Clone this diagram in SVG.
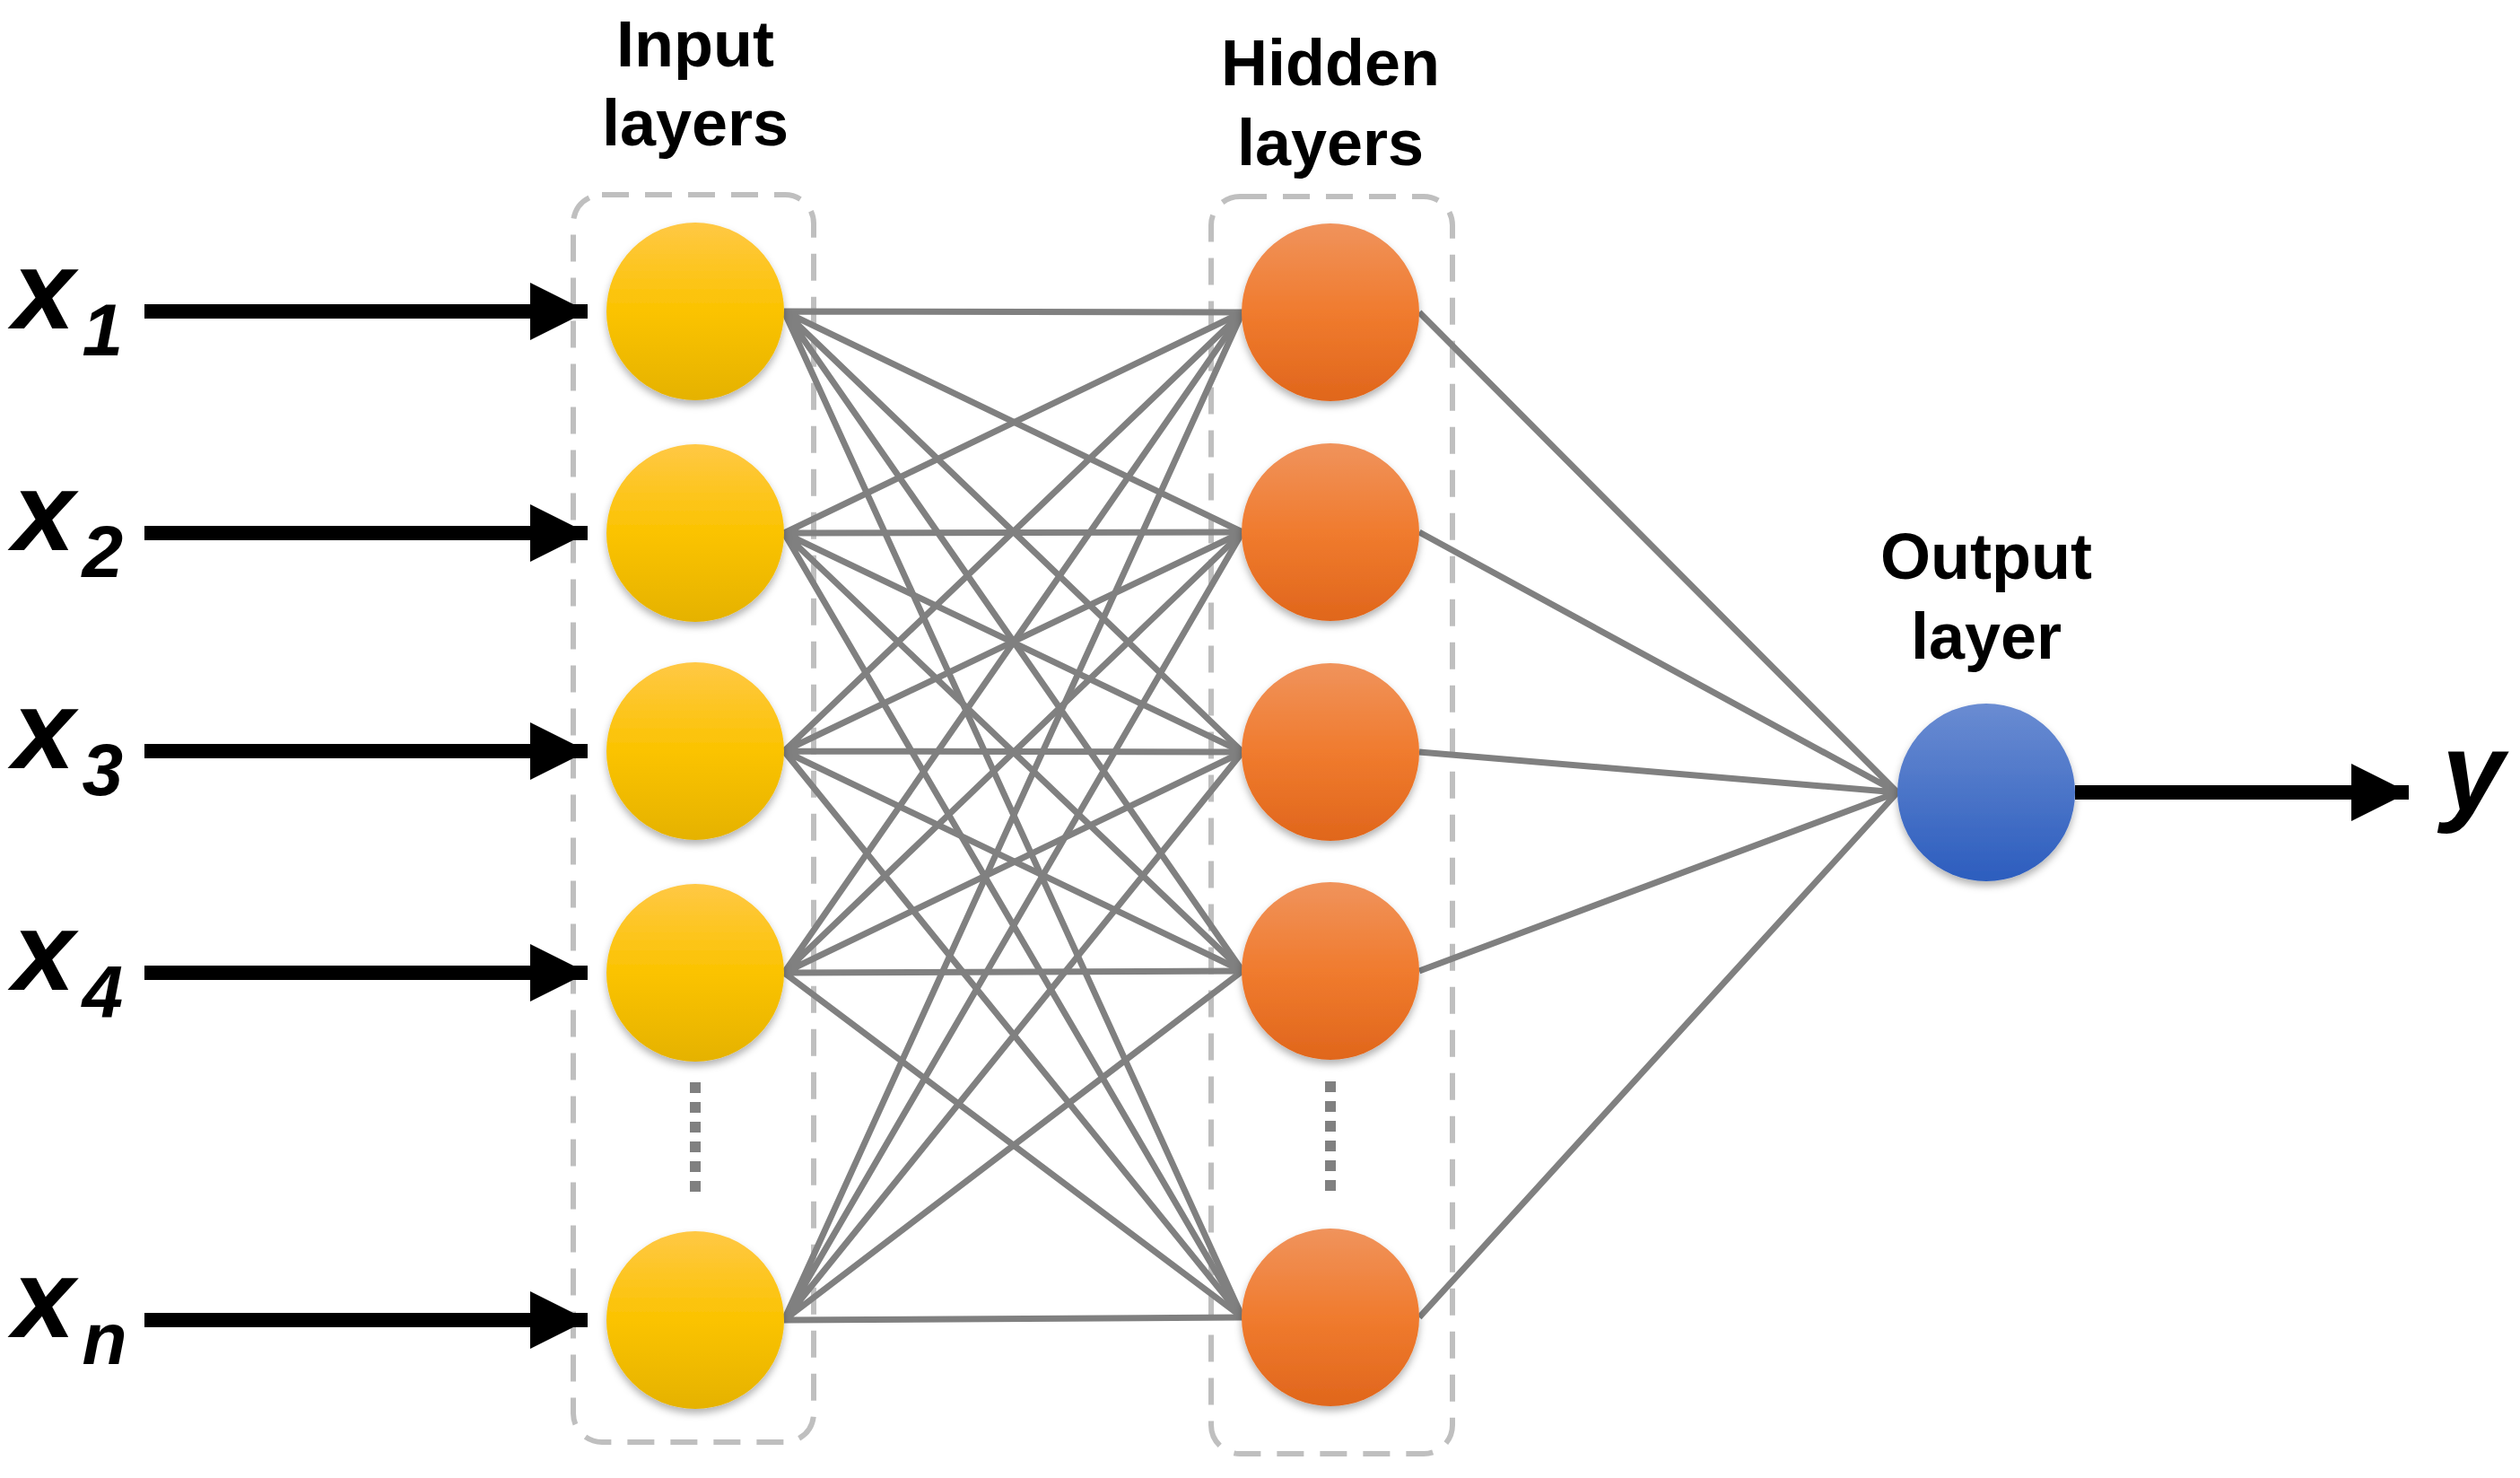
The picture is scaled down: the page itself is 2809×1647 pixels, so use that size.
<svg xmlns="http://www.w3.org/2000/svg" width="2809" height="1647" viewBox="0 0 2809 1647">
<style>
.lbl{font-family:"Liberation Sans",Arial,sans-serif;font-weight:bold;font-size:72px;fill:#000;text-anchor:middle}
.xl{font-family:"Liberation Sans",Arial,sans-serif;font-weight:bold;font-style:italic;fill:#000}
.box{fill:none;stroke:#bfbfbf;stroke-width:6;stroke-dasharray:30,18}
.c{stroke:#808080;stroke-width:7;fill:none}
.arr{stroke:#000;stroke-width:16;fill:none}
.dots{stroke:#808080;stroke-width:12;stroke-dasharray:12,10}
</style>
<defs>
<linearGradient id="gy" x1="0" y1="0" x2="0" y2="1"><stop offset="0" stop-color="#FFC845"/><stop offset="0.5" stop-color="#FBC300"/><stop offset="1" stop-color="#E5B200"/></linearGradient>
<linearGradient id="go" x1="0" y1="0" x2="0" y2="1"><stop offset="0" stop-color="#F0935C"/><stop offset="0.5" stop-color="#F07B2E"/><stop offset="1" stop-color="#E0661C"/></linearGradient>
<linearGradient id="gb" x1="0" y1="0" x2="0" y2="1"><stop offset="0" stop-color="#6A8CD2"/><stop offset="1" stop-color="#2C5DBE"/></linearGradient>
<filter id="sh" x="-20%" y="-20%" width="140%" height="150%"><feDropShadow dx="0" dy="5" stdDeviation="4" flood-color="#000" flood-opacity="0.3"/></filter>
<marker id="ah" viewBox="0 0 10 10" refX="10" refY="5" markerWidth="5" markerHeight="4" markerUnits="strokeWidth" orient="auto"><path d="M0,0 L10,5 L0,10 z" fill="#000"/></marker>
</defs>
<rect width="2809" height="1647" fill="#fff"/>
<text class="lbl" x="775" y="74">Input</text>
<text class="lbl" x="775" y="162">layers</text>
<text class="lbl" x="1483" y="95">Hidden</text>
<text class="lbl" x="1483" y="184">layers</text>
<text class="lbl" x="2214" y="645">Output</text>
<text class="lbl" x="2214" y="734">layer</text>
<rect class="box" x="639" y="217" width="268" height="1390" rx="32"/>
<rect class="box" x="1350" y="219" width="269" height="1401" rx="32"/>
<g id="connectors">
<g class="c">
<path d="M874,347L1385,348M874,347L1385,593M874,347L1385,838M874,347L1385,1082M874,347L1385,1468"/>
<path d="M874,594L1385,348M874,594L1385,593M874,594L1385,838M874,594L1385,1082M874,594L1385,1468"/>
<path d="M874,837L1385,348M874,837L1385,593M874,837L1385,838M874,837L1385,1082M874,837L1385,1468"/>
<path d="M874,1084L1385,348M874,1084L1385,593M874,1084L1385,838M874,1084L1385,1082M874,1084L1385,1468"/>
<path d="M874,1471L1385,348M874,1471L1385,593M874,1471L1385,838M874,1471L1385,1082M874,1471L1385,1468"/>
<path d="M1582,348L2115,883M1582,593L2115,883M1582,838L2115,883M1582,1082L2115,883M1582,1468L2115,883"/>
</g>
<g class="arr">
<path d="M161,347H655" marker-end="url(#ah)"/>
<path d="M161,594H655" marker-end="url(#ah)"/>
<path d="M161,837H655" marker-end="url(#ah)"/>
<path d="M161,1084H655" marker-end="url(#ah)"/>
<path d="M161,1471H655" marker-end="url(#ah)"/>
<path d="M2313,883H2685" marker-end="url(#ah)"/>
</g>
</g>
<line class="dots" x1="775" y1="1206" x2="775" y2="1332"/>
<line class="dots" x1="1483" y1="1205" x2="1483" y2="1330"/>
<g id="in1"><circle cx="775" cy="347" r="99" fill="url(#gy)" filter="url(#sh)"/></g>
<g id="in2"><circle cx="775" cy="594" r="99" fill="url(#gy)" filter="url(#sh)"/></g>
<g id="in3"><circle cx="775" cy="837" r="99" fill="url(#gy)" filter="url(#sh)"/></g>
<g id="in4"><circle cx="775" cy="1084" r="99" fill="url(#gy)" filter="url(#sh)"/></g>
<g id="inn"><circle cx="775" cy="1471" r="99" fill="url(#gy)" filter="url(#sh)"/></g>
<g id="h1"><circle cx="1483" cy="348" r="99" fill="url(#go)" filter="url(#sh)"/></g>
<g id="h2"><circle cx="1483" cy="593" r="99" fill="url(#go)" filter="url(#sh)"/></g>
<g id="h3"><circle cx="1483" cy="838" r="99" fill="url(#go)" filter="url(#sh)"/></g>
<g id="h4"><circle cx="1483" cy="1082" r="99" fill="url(#go)" filter="url(#sh)"/></g>
<g id="hn"><circle cx="1483" cy="1468" r="99" fill="url(#go)" filter="url(#sh)"/></g>
<g id="out"><circle cx="2214" cy="883" r="99" fill="url(#gb)" filter="url(#sh)"/></g>
<g id="xlabels">
<text class="xl" x="14" y="366" font-size="125">x<tspan font-size="82" dx="8" dy="30">1</tspan></text>
<text class="xl" x="14" y="613" font-size="125">x<tspan font-size="82" dx="8" dy="30">2</tspan></text>
<text class="xl" x="14" y="856" font-size="125">x<tspan font-size="82" dx="8" dy="30">3</tspan></text>
<text class="xl" x="14" y="1103" font-size="125">x<tspan font-size="82" dx="8" dy="30">4</tspan></text>
<text class="xl" x="14" y="1490" font-size="125">x<tspan font-size="82" dx="8" dy="30">n</tspan></text>
<text class="xl" x="2722" y="903" font-size="125">y</text>
</g>
</svg>
